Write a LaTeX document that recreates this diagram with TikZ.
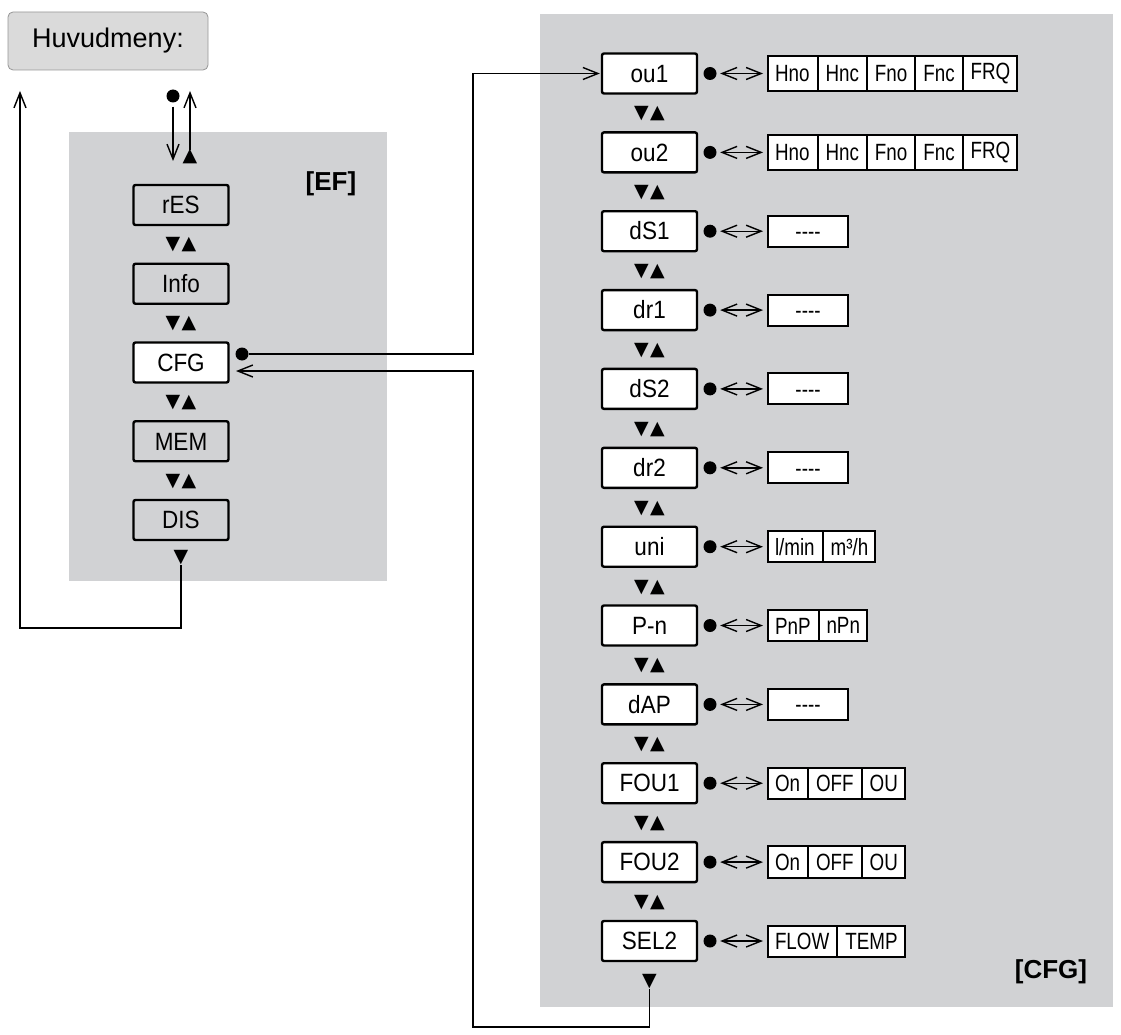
\documentclass[tikz,border=0pt]{standalone}
\usepackage{fontspec}
\setmainfont{Liberation Sans}
\newfontfamily\boxfont[FakeStretch=0.9]{Liberation Sans}
\newfontfamily\optfont[FakeStretch=0.8]{Liberation Sans}
\newfontfamily\symfont{DejaVu Sans}
\usetikzlibrary{arrows.meta,shapes.multipart}
\definecolor{panelgray}{RGB}{209,210,212}
\definecolor{menugray}{RGB}{218,218,218}
\definecolor{menuline}{RGB}{150,150,150}

\begin{document}
\begin{tikzpicture}[x=1pt, y=-1pt,
    mb/.style={draw=black, line width=2.4pt, rounded corners=2pt,
               minimum width=95pt, minimum height=40pt, inner sep=0pt,
               text height=17.5pt, text depth=0pt,
               font=\boxfont\fontsize{25}{27}\selectfont},
    sel/.style={mb, fill=white},
    opt/.style={rectangle split, rectangle split horizontal, rectangle split parts=#1,
                draw=black, line width=2pt, fill=white, anchor=west,
                inner xsep=7pt, inner ysep=7pt, text height=17pt, text depth=0pt,
                font=\optfont\fontsize{23.5}{25}\selectfont},
    dsh/.style={draw=black, line width=2pt, fill=white, anchor=west,
                minimum width=80pt, minimum height=31pt, inner sep=0pt,
                text height=17pt, text depth=0pt,
                font=\optfont\fontsize{23.5}{25}\selectfont},
    nav/.style={inner sep=0pt, font=\symfont\fontsize{19}{19}\selectfont},
    dot/.style={circle, fill=black, minimum size=13pt, inner sep=0pt},
    lbl/.style={inner sep=0pt, font=\bfseries\fontsize{26}{28}\selectfont},
    tr/.style={-{Straight Barb[length=15pt,width=12pt]}, line width=1.4pt},
    dbl/.style={{Straight Barb[length=15pt,width=12pt]}-{Straight Barb[length=15pt,width=12pt]},
                line width=1.4pt, shorten <=3.5pt, shorten >=4pt}
]
\useasboundingbox (0,0) rectangle (1121,1035);

\fill[panelgray] (69,132) rectangle (387,581);
\fill[panelgray] (540,14) rectangle (1113,1007);

\node[draw=menuline, line width=0.8pt, fill=menugray, rounded corners=5pt,
      minimum width=200pt, minimum height=58pt,
      font=\fontsize{27}{30}\selectfont] (huv) at (108,41) {Huvudmeny:};

\node[lbl] (ef_lbl) at (331,184) {[EF]};
\node[lbl] (cfg_lbl) at (1051,972) {[CFG]};

\node[dot] (d_top) at (173,96) {};
\coordinate (in_ef) at (173,161);
\node[nav] (up_ef) at (190,157) {▲};
\coordinate (back_top) at (190,91);

\node[mb] (res) at (181,205) {rES};
\node[nav] (n_res) at (181,245) {▼\kern1.5pt▲};
\node[mb] (info) at (181,283.75) {Info};
\node[nav] (n_info) at (181,324) {▼\kern1.5pt▲};
\node[sel] (cfg) at (181,362.5) {CFG};
\node[nav] (n_cfg) at (181,403) {▼\kern1.5pt▲};
\node[mb] (mem) at (181,441.25) {MEM};
\node[nav] (n_mem) at (181,482) {▼\kern1.5pt▲};
\node[mb] (dis) at (181,520) {DIS};
\node[nav] (dn_dis) at (181,558) {▼};

\node[dot] (dot_cfg) at (242,354) {};
\coordinate (cfg_in) at (236,371);
\coordinate (jx) at (473,0);
\coordinate (jb) at (473,1027);
\coordinate (loop_l) at (20,628);
\coordinate (back_l) at (20,91);

\node[sel] (ou1) at (649.5,73.5) {ou1};
\node[nav] (n_ou1) at (649.5,114) {▼\kern1.5pt▲};
\node[sel] (ou2) at (649.5,152.4) {ou2};
\node[nav] (n_ou2) at (649.5,193) {▼\kern1.5pt▲};
\node[sel] (ds1) at (649.5,231.2) {dS1};
\node[nav] (n_ds1) at (649.5,271.6) {▼\kern1.5pt▲};
\node[sel] (dr1) at (649.5,310.1) {dr1};
\node[nav] (n_dr1) at (649.5,350.5) {▼\kern1.5pt▲};
\node[sel] (ds2) at (649.5,388.9) {dS2};
\node[nav] (n_ds2) at (649.5,429.3) {▼\kern1.5pt▲};
\node[sel] (dr2) at (649.5,467.8) {dr2};
\node[nav] (n_dr2) at (649.5,508.2) {▼\kern1.5pt▲};
\node[sel] (uni) at (649.5,546.7) {uni};
\node[nav] (n_uni) at (649.5,587.1) {▼\kern1.5pt▲};
\node[sel] (pn) at (649.5,625.5) {P-n};
\node[nav] (n_pn) at (649.5,665.9) {▼\kern1.5pt▲};
\node[sel] (dap) at (649.5,704.4) {dAP};
\node[nav] (n_dap) at (649.5,744.8) {▼\kern1.5pt▲};
\node[sel] (fou1) at (649.5,783.2) {FOU1};
\node[nav] (n_fou1) at (649.5,823.6) {▼\kern1.5pt▲};
\node[sel] (fou2) at (649.5,862.1) {FOU2};
\node[nav] (n_fou2) at (649.5,902.5) {▼\kern1.5pt▲};
\node[sel] (sel2) at (649.5,941) {SEL2};
\node[nav] (dn_sel2) at (649.5,982) {▼};

\node[dot] (d_ou1) at (710,73.5) {};
\node[dot] (d_ou2) at (710,152.4) {};
\node[dot] (d_ds1) at (710,231.2) {};
\node[dot] (d_dr1) at (710,310.1) {};
\node[dot] (d_ds2) at (710,388.9) {};
\node[dot] (d_dr2) at (710,467.8) {};
\node[dot] (d_uni) at (710,546.7) {};
\node[dot] (d_pn) at (710,625.5) {};
\node[dot] (d_dap) at (710,704.4) {};
\node[dot] (d_fou1) at (710,783.2) {};
\node[dot] (d_fou2) at (710,862.1) {};
\node[dot] (d_sel2) at (710,941) {};

\node[opt=5] (o_ou1) at (767,73.5)
    {Hno\nodepart{two}Hnc\nodepart{three}Fno\nodepart{four}Fnc\nodepart{five}FRQ};
\node[opt=5] (o_ou2) at (767,152.4)
    {Hno\nodepart{two}Hnc\nodepart{three}Fno\nodepart{four}Fnc\nodepart{five}FRQ};
\node[dsh] (o_ds1) at (767,231.2) {{-}{-}{-}{-}};
\node[dsh] (o_dr1) at (767,310.1) {{-}{-}{-}{-}};
\node[dsh] (o_ds2) at (767,388.9) {{-}{-}{-}{-}};
\node[dsh] (o_dr2) at (767,467.8) {{-}{-}{-}{-}};
\node[opt=2] (o_uni) at (767,546.7) {l/min\nodepart{two}m³/h};
\node[opt=2] (o_pn) at (767,625.5) {PnP\nodepart{two}nPn};
\node[dsh] (o_dap) at (767,704.4) {{-}{-}{-}{-}};
\node[opt=3] (o_fou1) at (767,783.2) {On\nodepart{two}OFF\nodepart{three}OU};
\node[opt=3] (o_fou2) at (767,862.1) {On\nodepart{two}OFF\nodepart{three}OU};
\node[opt=2] (o_sel2) at (767,941) {FLOW\nodepart{two}TEMP};

\draw[dbl] (d_ou1.east) -- (o_ou1.west);
\draw[dbl] (d_ou2.east) -- (o_ou2.west);
\draw[dbl] (d_ds1.east) -- (o_ds1.west);
\draw[dbl] (d_dr1.east) -- (o_dr1.west);
\draw[dbl] (d_ds2.east) -- (o_ds2.west);
\draw[dbl] (d_dr2.east) -- (o_dr2.west);
\draw[dbl] (d_uni.east) -- (o_uni.west);
\draw[dbl] (d_pn.east) -- (o_pn.west);
\draw[dbl] (d_dap.east) -- (o_dap.west);
\draw[dbl] (d_fou1.east) -- (o_fou1.west);
\draw[dbl] (d_fou2.east) -- (o_fou2.west);
\draw[dbl] (d_sel2.east) -- (o_sel2.west);

\draw[tr, shorten <=4pt] (d_top) -- (in_ef);
\draw[tr] (up_ef.north) -- (back_top);
\draw[tr] (dn_dis.south) |- (loop_l) -- (back_l);

\draw[tr, shorten >=1pt] (dot_cfg.east) -- (dot_cfg.east -| jx) |- (ou1.west);
\draw[tr] (dn_sel2.south) |- (jb) |- (cfg_in);
\end{tikzpicture}
\end{document}
